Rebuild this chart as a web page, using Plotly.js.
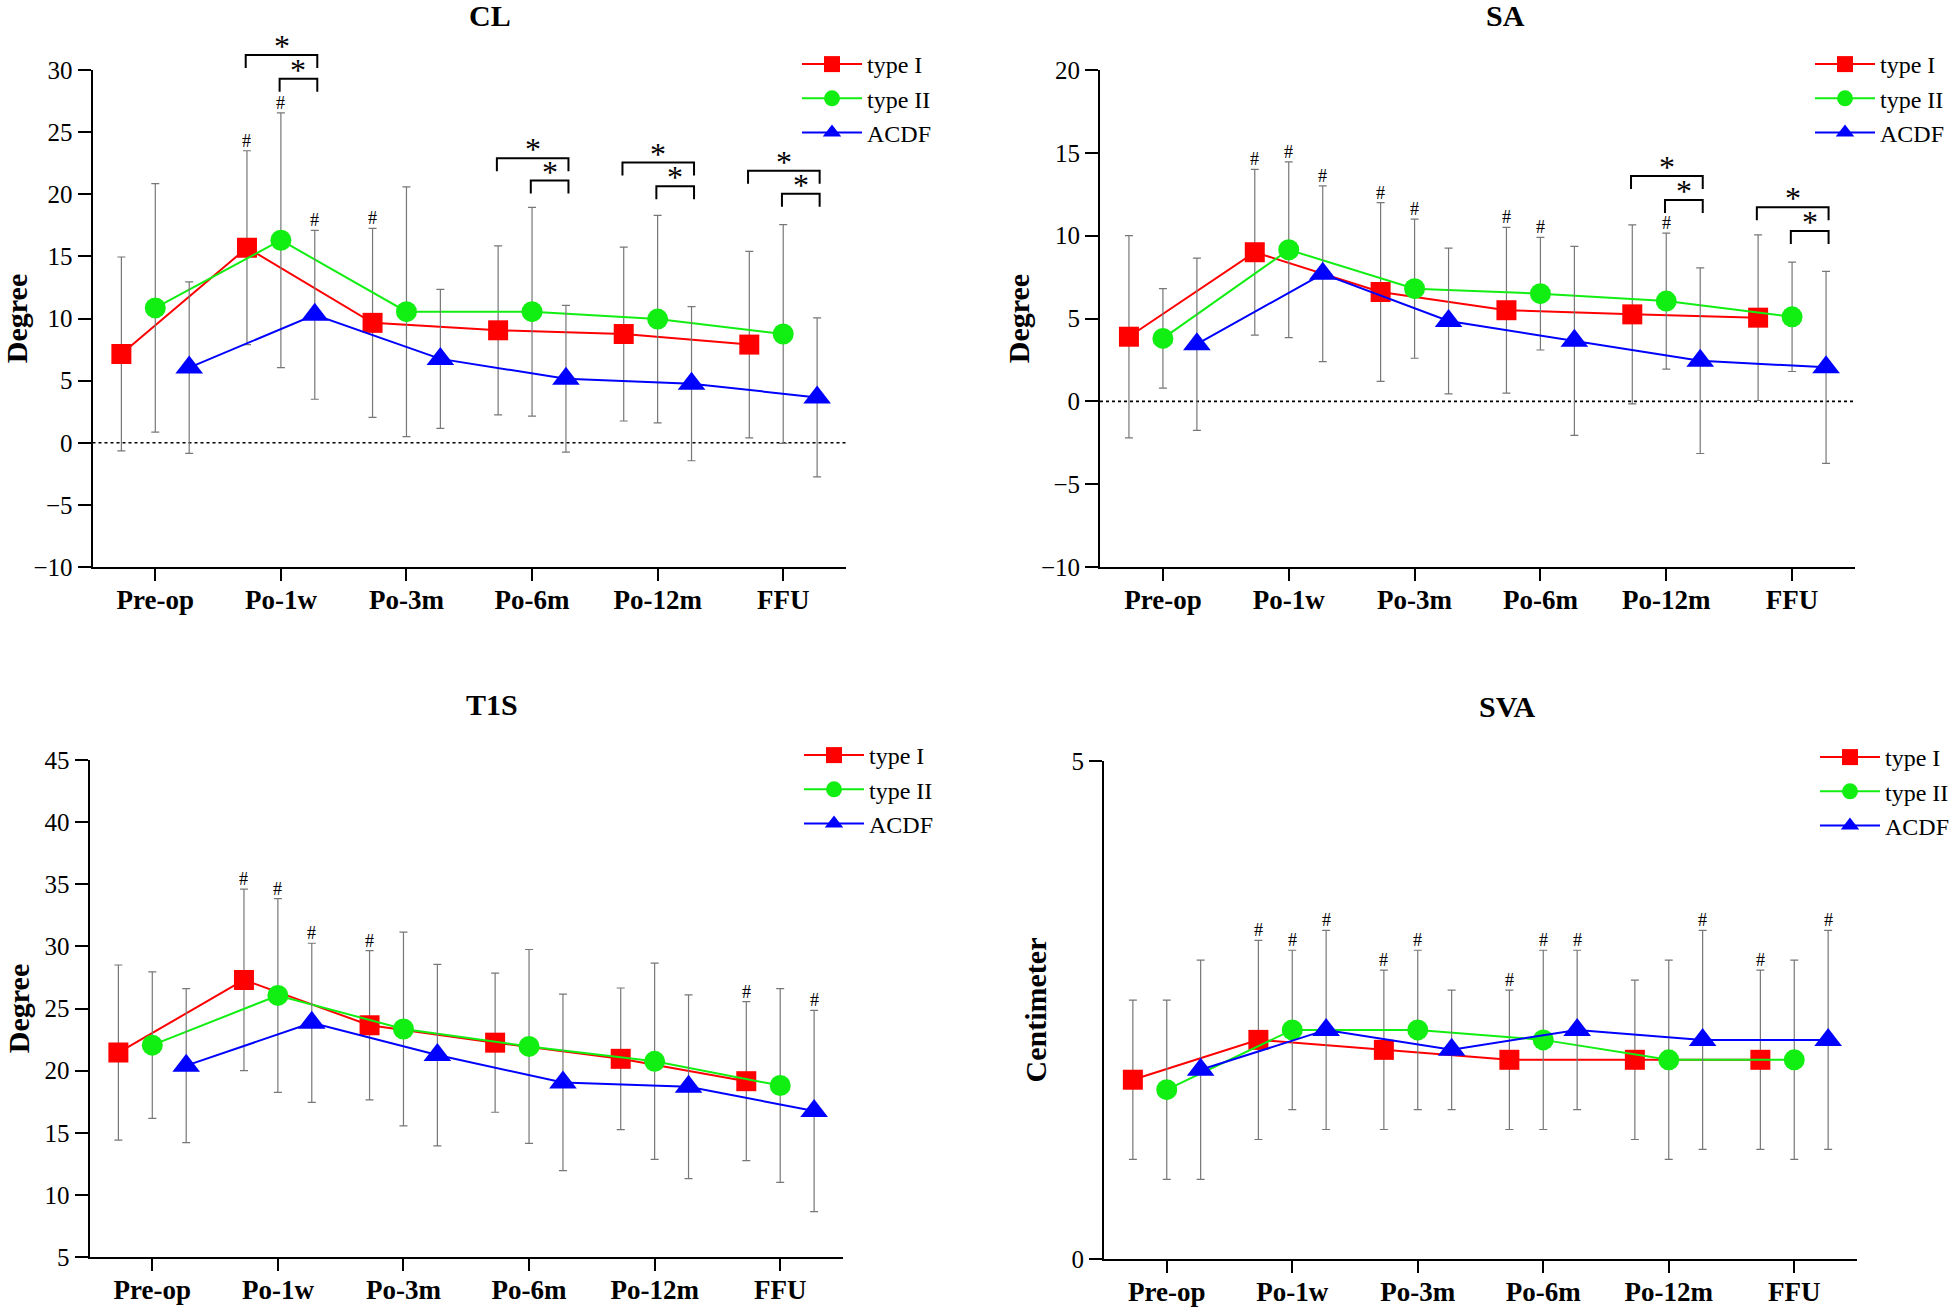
<!DOCTYPE html>
<html>
<head>
<meta charset="utf-8">
<script src="https://cdn.plot.ly/plotly-3.0.1.min.js"></script>
<style>
  html, body { margin: 0; padding: 0; background: #ffffff; }
  #chart { width: 1960px; height: 1310px; }
</style>
</head>
<body>
<div id="chart"></div>
<script>
// ---------------- DATA ----------------
const categories = ['Pre-op', 'Po-1w', 'Po-3m', 'Po-6m', 'Po-12m', 'FFU'];
const seriesNames = ['type I', 'type II', 'ACDF'];

// CL (Degree)
const clTypeI      = [7.15, 15.7, 9.65, 9.05, 8.75, 7.9];
const clTypeISD    = [7.8, 7.8, 7.6, 6.8, 7.0, 7.5];
const clTypeII     = [10.85, 16.3, 10.55, 10.55, 9.95, 8.75];
const clTypeIISD   = [10.0, 10.25, 10.05, 8.4, 8.35, 8.8];
const clACDF       = [6.05, 10.3, 6.75, 5.15, 4.75, 3.65];
const clACDFSD     = [6.9, 6.8, 5.6, 5.9, 6.2, 6.4];
const clHashTypeI  = [0, 1, 1, 0, 0, 0];
const clHashTypeII = [0, 1, 0, 0, 0, 0];
const clHashACDF   = [0, 1, 0, 0, 0, 0];

// SA (Degree)
const saTypeI      = [3.9, 9.0, 6.6, 5.5, 5.25, 5.05];
const saTypeISD    = [6.1, 5.0, 5.4, 5.0, 5.4, 5.0];
const saTypeII     = [3.8, 9.15, 6.8, 6.5, 6.05, 5.1];
const saTypeIISD   = [3.0, 5.3, 4.2, 3.4, 4.1, 3.3];
const saACDF       = [3.45, 7.7, 4.85, 3.65, 2.45, 2.05];
const saACDFSD     = [5.2, 5.3, 4.4, 5.7, 5.6, 5.8];
const saHashTypeI  = [0, 1, 1, 1, 0, 0];
const saHashTypeII = [0, 1, 1, 1, 1, 0];
const saHashACDF   = [0, 1, 0, 0, 0, 0];

// T1S (Degree)
const t1sTypeI      = [21.45, 27.3, 23.65, 22.25, 20.95, 19.15];
const t1sTypeISD    = [7.05, 7.3, 6.0, 5.6, 5.7, 6.4];
const t1sTypeII     = [22.05, 26.05, 23.35, 21.95, 20.75, 18.8];
const t1sTypeIISD   = [5.9, 7.8, 7.8, 7.8, 7.9, 7.8];
const t1sACDF       = [20.4, 23.85, 21.25, 19.05, 18.7, 16.75];
const t1sACDFSD     = [6.2, 6.4, 7.3, 7.1, 7.4, 8.1];
const t1sHashTypeI  = [0, 1, 1, 0, 0, 1];
const t1sHashTypeII = [0, 1, 0, 0, 0, 0];
const t1sHashACDF   = [0, 1, 0, 0, 0, 1];

// SVA (Centimeter)
const svaTypeI      = [1.8, 2.2, 2.1, 2.0, 2.0, 2.0];
const svaTypeISD    = [0.8, 1.0, 0.8, 0.7, 0.8, 0.9];
const svaTypeII     = [1.7, 2.3, 2.3, 2.2, 2.0, 2.0];
const svaTypeIISD   = [0.9, 0.8, 0.8, 0.9, 1.0, 1.0];
const svaACDF       = [1.9, 2.3, 2.1, 2.3, 2.2, 2.2];
const svaACDFSD     = [1.1, 1.0, 0.6, 0.8, 1.1, 1.1];
const svaHashTypeI  = [0, 1, 1, 1, 0, 1];
const svaHashTypeII = [0, 1, 1, 1, 0, 0];
const svaHashACDF   = [0, 1, 0, 1, 1, 1];

// significance brackets: category index where type I / type II differ from ACDF
const clSigCats  = [1, 3, 4, 5];
const saSigCats  = [4, 5];

// ---------------- STYLE / LAYOUT ----------------
const W = 1960, H = 1310;
const FONT = 'Liberation Serif, Times New Roman, serif';
const colors  = ['#ff0000', '#11ee11', '#0000ff'];
const symbols = ['square', 'circle', 'triangle-up'];
const msizes  = [20, 21, 24];
const offsets = [-0.27, 0, 0.27];

const panels = [
  { title: 'CL', yTitle: 'Degree', standoff: 6, range: [-10, 30], tick0: -10, dtick: 5,
    box: [92.5, 846, 70, 567], titleXY: [490, 16], legendXY: [797, 42], zero: true,
    means: [clTypeI, clTypeII, clACDF], sds: [clTypeISD, clTypeIISD, clACDFSD],
    hash: [clHashTypeI, clHashTypeII, clHashACDF],
    sigCats: clSigCats, sigOuter: [31.2, 22.9, 22.55, 21.9], sigInner: [29.3, 21.1, 20.65, 20.05] },
  { title: 'SA', yTitle: 'Degree', standoff: 2, range: [-10, 20], tick0: -10, dtick: 5,
    box: [1100, 1855, 70, 567], titleXY: [1505, 16], legendXY: [1810, 42], zero: true,
    means: [saTypeI, saTypeII, saACDF], sds: [saTypeISD, saTypeIISD, saACDFSD],
    hash: [saHashTypeI, saHashTypeII, saHashACDF],
    sigCats: saSigCats, sigOuter: [13.6, 11.72], sigInner: [12.15, 10.28] },
  { title: 'T1S', yTitle: 'Degree', standoff: 6, range: [5, 45], tick0: 5, dtick: 5,
    box: [89.5, 843, 760, 1257], titleXY: [492, 705], legendXY: [799, 733], zero: false,
    means: [t1sTypeI, t1sTypeII, t1sACDF], sds: [t1sTypeISD, t1sTypeIISD, t1sACDFSD],
    hash: [t1sHashTypeI, t1sHashTypeII, t1sHashACDF],
    sigCats: [], sigOuter: [], sigInner: [] },
  { title: 'SVA', yTitle: 'Centimeter', standoff: 16, range: [0, 5], tick0: 0, dtick: 5,
    box: [1104, 1857, 761, 1259], titleXY: [1507, 706], legendXY: [1815, 735], zero: false,
    means: [svaTypeI, svaTypeII, svaACDF], sds: [svaTypeISD, svaTypeIISD, svaACDFSD],
    hash: [svaHashTypeI, svaHashTypeII, svaHashACDF],
    sigCats: [], sigOuter: [], sigInner: [] }
];

const data = [];
const layout = {
  width: W, height: H,
  margin: { l: 0, r: 0, t: 0, b: 0 },
  paper_bgcolor: '#ffffff', plot_bgcolor: '#ffffff',
  font: { family: FONT, color: '#000000' },
  showlegend: true,
  shapes: [], annotations: []
};

panels.forEach((p, k) => {
  const n = k === 0 ? '' : String(k + 1);
  const xId = 'x' + n, yId = 'y' + n;
  const legendId = 'legend' + n;
  const [x0, x1, yTop, yBot] = p.box;
  const yDom = [1 - yBot / H, 1 - yTop / H];

  layout['xaxis' + n] = {
    domain: [x0 / W, x1 / W], anchor: yId,
    range: [-0.5, categories.length - 0.5],
    tickvals: categories.map((c, i) => i), ticktext: categories,
    showline: true, linewidth: 2, linecolor: '#000',
    ticks: 'outside', ticklen: 12, tickwidth: 2, tickcolor: '#000',
    ticklabelstandoff: -4,
    showgrid: false, zeroline: false, fixedrange: true,
    tickfont: { family: FONT, size: 27, weight: 'bold', color: '#000' }
  };
  layout['yaxis' + n] = {
    domain: yDom, anchor: xId, range: p.range, tick0: p.tick0, dtick: p.dtick,
    showline: true, linewidth: 2, linecolor: '#000',
    ticks: 'outside', ticklen: 13, tickwidth: 2, tickcolor: '#000',
    showgrid: false, zeroline: false, fixedrange: true,
    tickfont: { family: FONT, size: 25, color: '#000' },
    title: { text: p.yTitle, standoff: p.standoff, font: { family: FONT, size: 30, weight: 'bold', color: '#000' } }
  };
  layout[legendId] = {
    x: p.legendXY[0] / W, y: 1 - p.legendXY[1] / H, xanchor: 'left', yanchor: 'top',
    bgcolor: 'rgba(0,0,0,0)', borderwidth: 0, itemwidth: 60,
    font: { family: FONT, size: 24, color: '#000' }
  };

  // panel title
  layout.annotations.push({
    text: p.title, xref: 'paper', yref: 'paper', x: p.titleXY[0] / W, y: 1 - p.titleXY[1] / H,
    xanchor: 'center', yanchor: 'middle', showarrow: false,
    font: { family: FONT, size: 30, weight: 'bold', color: '#000' }
  });

  // dotted zero reference line
  if (p.zero) {
    layout.shapes.push({
      type: 'line', xref: xId, yref: yId, x0: -0.5, x1: categories.length - 0.5, y0: 0, y1: 0,
      layer: 'below', line: { color: '#000', width: 1.6, dash: 'dot' }
    });
  }

  // series
  seriesNames.forEach((name, s) => {
    const xs = categories.map((c, i) => i + offsets[s]);
    data.push({
      type: 'scatter', mode: 'lines+markers', name: name,
      x: xs, y: p.means[s],
      xaxis: xId, yaxis: yId, legend: legendId,
      line: { color: colors[s], width: 2 },
      marker: { symbol: symbols[s], size: msizes[s], color: colors[s], line: { width: 0 } },
      error_y: { type: 'data', array: p.sds[s], symmetric: true, visible: true,
                 color: '#777777', thickness: 1.2, width: 4 },
      hoverinfo: 'skip'
    });
    // '#' marks above error bars
    p.hash[s].forEach((h, i) => {
      if (!h) return;
      layout.annotations.push({
        text: '#', xref: xId, yref: yId, x: xs[i], y: p.means[s][i] + p.sds[s][i],
        xanchor: 'center', yanchor: 'bottom', showarrow: false, yshift: -2,
        font: { family: FONT, size: 18, color: '#000' }
      });
    });
  });

  // significance brackets (type I vs ACDF outer, type II vs ACDF inner)
  const toPaperY = v => yDom[0] + (v - p.range[0]) / (p.range[1] - p.range[0]) * (yDom[1] - yDom[0]);
  const legPx = 13 / H;
  p.sigCats.forEach((c, j) => {
    [[0, p.sigOuter[j]], [1, p.sigInner[j]]].forEach(([s, level]) => {
      const xa = c + offsets[s] - 0.01, xb = c + offsets[2] + 0.02;
      const yl = toPaperY(level);
      layout.shapes.push({
        type: 'path', xref: xId, yref: 'paper', layer: 'above',
        path: `M${xa},${yl - legPx} L${xa},${yl} L${xb},${yl} L${xb},${yl - legPx}`,
        line: { color: '#000', width: 2 }
      });
      layout.annotations.push({
        text: '*', xref: xId, yref: 'paper', x: (xa + xb) / 2, y: yl,
        xanchor: 'center', yanchor: 'middle', yshift: 9, showarrow: false,
        font: { family: FONT, size: 32, color: '#000' }
      });
    });
  });
});

Plotly.newPlot('chart', data, layout, { staticPlot: true, displayModeBar: false });
</script>
</body>
</html>
